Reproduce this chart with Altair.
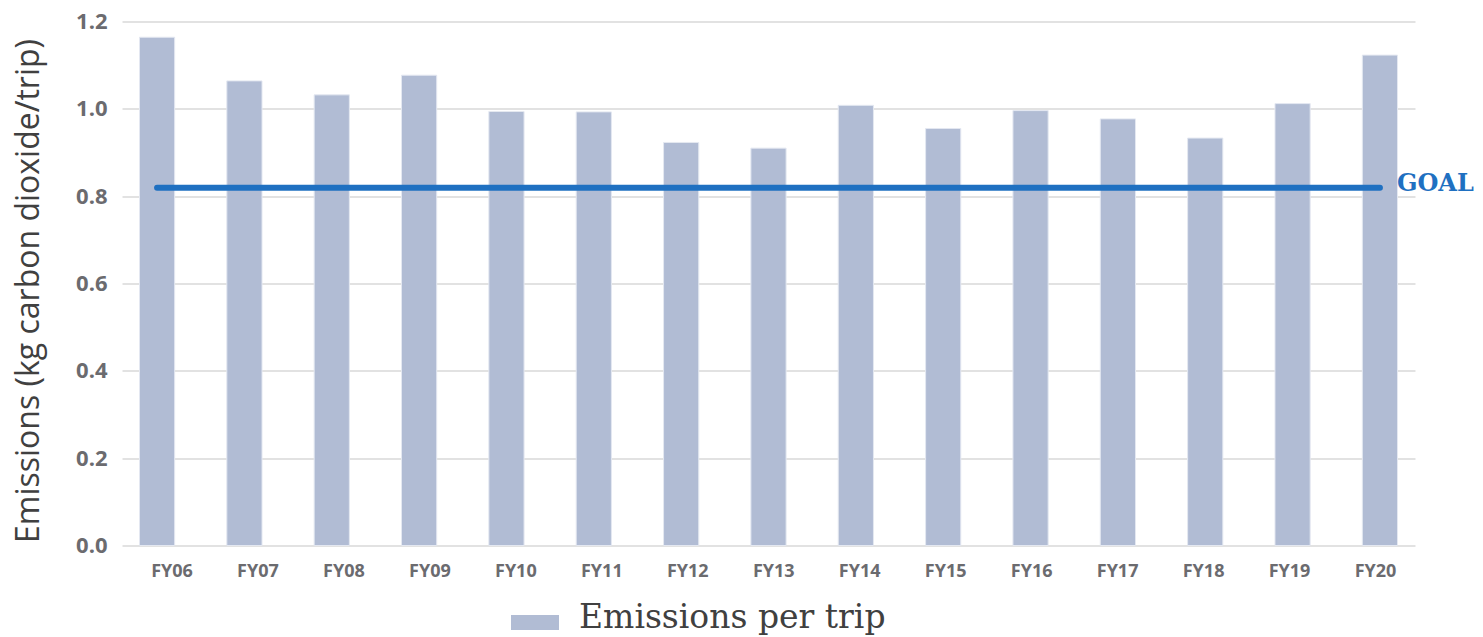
import altair as alt
import pandas as pd

years = ["FY06", "FY07", "FY08", "FY09", "FY10", "FY11", "FY12", "FY13",
         "FY14", "FY15", "FY16", "FY17", "FY18", "FY19", "FY20"]
emissions = [1.164, 1.064, 1.032, 1.077, 0.994, 0.993, 0.923, 0.910,
             1.008, 0.955, 0.996, 0.977, 0.933, 1.012, 1.123]
series_name = "Emissions per trip"
goal_value = 0.819
goal_label = "GOAL"
goal_span = ["FY06", "FY20"]

bars_df = pd.DataFrame({"year": years, "value": emissions, "series": [series_name] * len(years)})
goal_df = pd.DataFrame({"year": goal_span, "value": [goal_value] * len(goal_span)})
label_df = pd.DataFrame({"year": [goal_span[-1]], "value": [goal_value], "label": [goal_label]})
xlab_df = pd.DataFrame({"year": years})

y_scale = alt.Scale(domain=[0, 1.2], nice=False)
x_band = alt.Scale(paddingInner=0.597, paddingOuter=0.2)

bars = alt.Chart(bars_df).mark_bar(stroke="#e4e8f1", strokeWidth=1).encode(
    x=alt.X("year:N", sort=years, title=None, scale=x_band, axis=None),
    y=alt.Y("value:Q", scale=y_scale,
            title="Emissions (kg carbon dioxide/trip)",
            axis=alt.Axis(values=[0, 0.2, 0.4, 0.6, 0.8, 1.0, 1.2], format=".1f",
                          labelFont="Open Sans", labelFontWeight="bold", labelFontSize=22,
                          labelColor="#6b6b6f", labelPadding=15, ticks=False, domain=False,
                          gridColor="#d9d9d9", gridWidth=1.5,
                          titleFont="Open Sans", titleFontSize=32, titleFontWeight="normal",
                          titleColor="#404040", titleX=-94, titleY=269, titleAngle=-90,
                          titleAlign="center", titleBaseline="middle")),
    color=alt.Color("series:N", title=None,
                    scale=alt.Scale(domain=[series_name], range=["#b1bcd4"]),
                    legend=alt.Legend(orient="none", legendX=389, legendY=572,
                                      direction="horizontal",
                                      symbolType="M-1,-0.1L1,-0.1L1,0.525L-1,0.525Z",
                                      symbolSize=2304, symbolStrokeWidth=0,
                                      labelFont="DejaVu Serif", labelFontSize=33,
                                      labelColor="#404040", labelOffset=20,
                                      labelBaseline="middle",
                                      padding=0, labelLimit=700)),
)

goal = alt.Chart(goal_df).mark_line(color="#1f70c1", strokeWidth=6, strokeCap="round").encode(
    x=alt.X("year:N", sort=years, scale=x_band),
    y=alt.Y("value:Q", scale=y_scale),
)

goal_text = alt.Chart(label_df).mark_text(
    align="left", baseline="middle", dx=17, dy=-4, font="DejaVu Serif", fontWeight="bold",
    fontSize=24, color="#1f70c1"
).encode(
    x=alt.X("year:N", sort=years, scale=x_band),
    y=alt.Y("value:Q", scale=y_scale),
    text="label:N",
)

main = alt.layer(bars, goal, goal_text)

x_labels = alt.Chart(xlab_df).mark_text(
    baseline="top", align="center", font="Open Sans", fontWeight="bold",
    fontSize=18, color="#6b6b6f"
).encode(
    x=alt.X("year:N", sort=years,
            scale=alt.Scale(type="point", range=[50, 1253.5], padding=0), axis=None),
    y=alt.value(541),
    text="year:N",
)

chart = alt.layer(main, x_labels).resolve_scale(x="independent").properties(
    width=1293, height=524,
    autosize=alt.AutoSizeParams(type="none"),
    padding={"left": 114, "top": 13.5, "right": 60, "bottom": 90},
).configure_view(stroke=None)

chart.save("out.html", embed_options={"renderer": "svg", "actions": False})
